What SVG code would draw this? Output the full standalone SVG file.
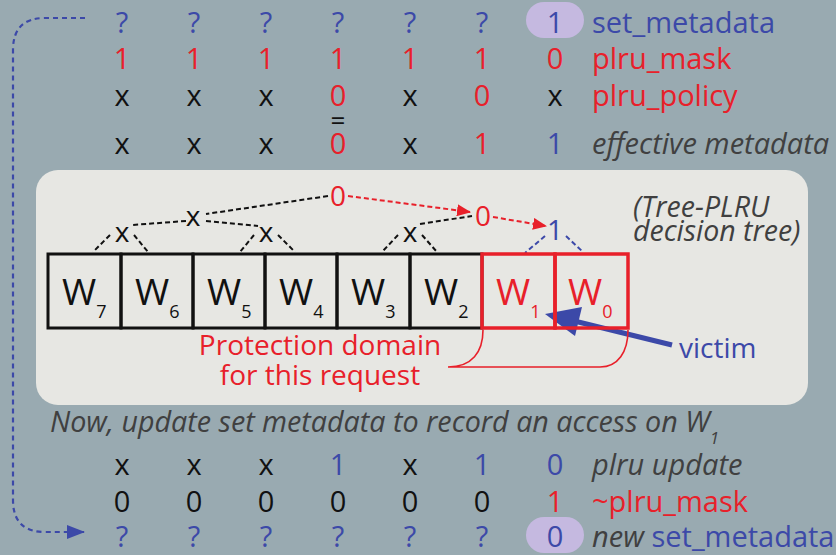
<svg xmlns="http://www.w3.org/2000/svg" width="836" height="555" viewBox="0 0 836 555">
<defs>
<style>
text{font-family:"Open Sans","Liberation Sans",sans-serif;}
.v{font-size:29px;text-anchor:middle;}
.lbl{font-size:29px;}
.it{font-style:italic;fill:#404040;}
.r{fill:#e8202a;}
.b{fill:#3c49a8;}
.k{fill:#111;}
.g{fill:#404040;}
.box{fill:none;stroke:#111;stroke-width:3;}
.rbox{fill:none;stroke:#e8202a;stroke-width:3.5;}
.wl{font-size:37px;}
.ws{font-size:18px;}
.tn{font-size:28px;text-anchor:middle;}
.dk{fill:none;stroke:#111;stroke-width:2;stroke-dasharray:5 3;}
.dr{fill:none;stroke:#e8202a;stroke-width:2;stroke-dasharray:5 3;}
.db{fill:none;stroke:#3c49a8;stroke-width:2;stroke-dasharray:5 3;}
.loop{fill:none;stroke:#3c49a8;stroke-width:2.2;stroke-dasharray:5 4;}
.pill{fill:#c5b9e0;}
</style>
<marker id="ar" markerWidth="14" markerHeight="12" refX="13" refY="6" orient="auto" markerUnits="userSpaceOnUse">
<path d="M0,0 L14,6 L0,12 z" fill="#e8202a"/>
</marker>
<marker id="ab" markerWidth="18" markerHeight="14" refX="17" refY="7" orient="auto" markerUnits="userSpaceOnUse">
<path d="M0,0 L18,7 L0,14 z" fill="#3c49a8"/>
</marker>
</defs>
<rect width="836" height="555" fill="#99aab1"/>

<g id="panel">
<rect x="36" y="170" width="772" height="235" rx="22" fill="#e7e7e3"/>
</g>

<g id="top-rows">
<rect class="pill" x="526" y="2" width="58" height="36" rx="18"/>
<text class="v b" x="122" y="33">?</text><text class="v b" x="194" y="33">?</text><text class="v b" x="266" y="33">?</text><text class="v b" x="338" y="33">?</text><text class="v b" x="410" y="33">?</text><text class="v b" x="482" y="33">?</text><text class="v b" x="555" y="33">1</text>
<text class="lbl b" x="592" y="33">set_metadata</text>

<text class="v r" x="122" y="69">1</text><text class="v r" x="194" y="69">1</text><text class="v r" x="266" y="69">1</text><text class="v r" x="338" y="69">1</text><text class="v r" x="410" y="69">1</text><text class="v r" x="482" y="69">1</text><text class="v r" x="555" y="69">0</text>
<text class="lbl r" x="592" y="69">plru_mask</text>

<text class="v k" x="122" y="106">x</text><text class="v k" x="194" y="106">x</text><text class="v k" x="266" y="106">x</text><text class="v r" x="338" y="106">0</text><text class="v k" x="410" y="106">x</text><text class="v r" x="482" y="106">0</text><text class="v k" x="555" y="106">x</text>
<text class="lbl r" x="592" y="106">plru_policy</text>

<text class="k" font-size="26" text-anchor="middle" x="338" y="130">=</text>

<text class="v k" x="122" y="154">x</text><text class="v k" x="194" y="154">x</text><text class="v k" x="266" y="154">x</text><text class="v r" x="338" y="154">0</text><text class="v k" x="410" y="154">x</text><text class="v r" x="482" y="154">1</text><text class="v b" x="555" y="154">1</text>
<text class="lbl it" x="592" y="154">effective metadata</text>
</g>

<g id="connectors">
<path class="dk" d="M328,196 L206,214"/>
<path class="dk" d="M186,221 L132,225"/>
<path class="dk" d="M206,221 L258,226"/>
<path class="dk" d="M110,235 L93,252"/>
<path class="dk" d="M134,235 L148,252"/>
<path class="dk" d="M254,235 L240,252"/>
<path class="dk" d="M278,235 L295,252"/>
<path class="dk" d="M398,235 L382,252"/>
<path class="dk" d="M422,235 L437,252"/>
<path class="dk" d="M420,224 L472,216"/>
<path class="dr" d="M348,196 L470,212" marker-end="url(#ar)"/>
<path class="dr" d="M493,217 L546,226" marker-end="url(#ar)"/>
<path class="db" d="M545,236 L525,253"/>
<path class="db" d="M566,236 L583,252"/>
<path class="loop" d="M85,18 L45,18 Q13,18 13,50 L13,500 Q13,532 45,532 L84,532" marker-end="url(#ab)"/>
<path d="M672,345 L558,317" stroke="#3c49a8" stroke-width="5" fill="none"/>
<path d="M545,314 L582,307 L575,336 z" fill="#3c49a8"/>
<path d="M483,330 C483,352 472,367 448,367 L600,367 C618,367 628,352 628,330" fill="none" stroke="#e8202a" stroke-width="1.6"/>
</g>

<g id="tree-nodes">
<text class="tn r" x="338" y="206">0</text>
<text class="tn k" x="193" y="226">x</text>
<text class="tn k" x="122" y="242">x</text>
<text class="tn k" x="266" y="242">x</text>
<text class="tn k" x="410" y="242">x</text>
<text class="tn r" x="483" y="226">0</text>
<text class="tn b" x="555" y="240">1</text>
</g>

<g id="W7"><rect class="box" x="48" y="254" width="73" height="74"/><text class="wl k" x="62" y="305">W<tspan class="ws" dy="13">7</tspan></text></g>
<g id="W6"><rect class="box" x="121" y="254" width="72" height="74"/><text class="wl k" x="135" y="305">W<tspan class="ws" dy="13">6</tspan></text></g>
<g id="W5"><rect class="box" x="193" y="254" width="72" height="74"/><text class="wl k" x="207" y="305">W<tspan class="ws" dy="13">5</tspan></text></g>
<g id="W4"><rect class="box" x="265" y="254" width="72" height="74"/><text class="wl k" x="279" y="305">W<tspan class="ws" dy="13">4</tspan></text></g>
<g id="W3"><rect class="box" x="337" y="254" width="73" height="74"/><text class="wl k" x="351" y="305">W<tspan class="ws" dy="13">3</tspan></text></g>
<g id="W2"><rect class="box" x="410" y="254" width="72" height="74"/><text class="wl k" x="424" y="305">W<tspan class="ws" dy="13">2</tspan></text></g>
<g id="W1"><rect class="rbox" x="482" y="254" width="73" height="74"/><text class="wl r" x="496" y="305">W<tspan class="ws" dy="13">1</tspan></text></g>
<g id="W0"><rect class="rbox" x="555" y="254" width="73" height="74"/><text class="wl r" x="568" y="305">W<tspan class="ws" dy="13">0</tspan></text></g>

<g id="labels">
<text class="r" font-size="28" text-anchor="middle" x="320" y="355">Protection domain</text>
<text class="r" font-size="28" text-anchor="middle" x="320" y="385">for this request</text>
<text class="b" font-size="28" x="679" y="358">victim</text>
<text class="it" font-size="28.5" x="633" y="217">(Tree-PLRU</text>
<text class="it" font-size="28.5" x="633" y="241">decision tree)</text>
<text class="it" font-size="28.7" x="50" y="432">Now, update set metadata to record an access on W<tspan font-size="17" dy="12">1</tspan></text>
</g>

<g id="bottom-rows">
<rect class="pill" x="526" y="517" width="58" height="36" rx="18"/>
<text class="v k" x="122" y="475">x</text><text class="v k" x="194" y="475">x</text><text class="v k" x="266" y="475">x</text><text class="v b" x="338" y="475">1</text><text class="v k" x="410" y="475">x</text><text class="v b" x="482" y="475">1</text><text class="v b" x="555" y="475">0</text>
<text class="lbl it" x="592" y="475">plru update</text>

<text class="v k" x="122" y="512">0</text><text class="v k" x="194" y="512">0</text><text class="v k" x="266" y="512">0</text><text class="v k" x="338" y="512">0</text><text class="v k" x="410" y="512">0</text><text class="v k" x="482" y="512">0</text><text class="v r" x="555" y="512">1</text>
<text class="lbl r" x="592" y="512">~plru_mask</text>

<text class="v b" x="122" y="547">?</text><text class="v b" x="194" y="547">?</text><text class="v b" x="266" y="547">?</text><text class="v b" x="338" y="547">?</text><text class="v b" x="410" y="547">?</text><text class="v b" x="482" y="547">?</text><text class="v b" x="555" y="547">0</text>
<text class="lbl" x="592" y="547"><tspan class="it">new </tspan><tspan class="b">set_metadata</tspan></text>
</g>
</svg>
